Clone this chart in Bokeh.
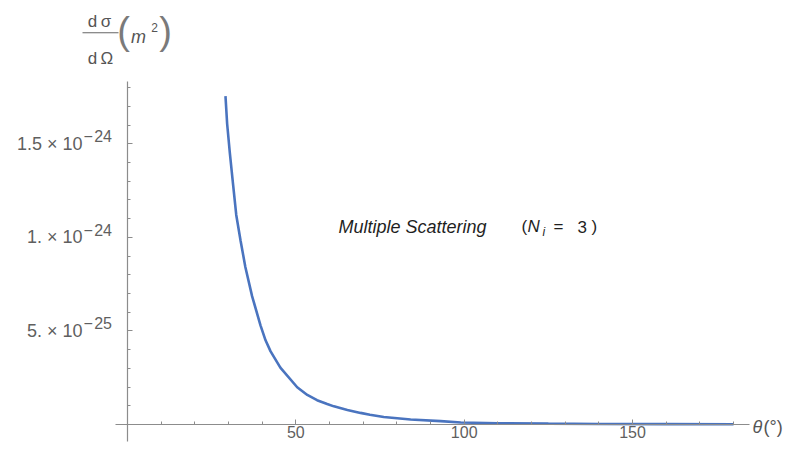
from bokeh.plotting import figure
from bokeh.models import Range1d, LinearAxis, FixedTicker, Label, BoxAnnotation, ColumnDataSource
from bokeh.embed import file_html
from bokeh.resources import INLINE
from bokeh.core.properties import value

# ---- data ----
theta_deg = [29.1, 29.6, 30.4, 31.3, 32.3, 33.6, 35.0, 37.0, 39.5, 41.0, 42.5, 45.4,
             50.4, 53.4, 56.3, 59.3, 61.3, 65.3, 69.2, 72.0, 76.1, 84.1, 93.0, 99.0,
             110.0, 125.0, 140.0, 160.0, 180.0]
dsigma_m2 = [1.755e-24, 1.606e-24, 1.450e-24, 1.293e-24, 1.120e-24, 9.81e-25, 8.42e-25,
             6.86e-25, 5.30e-25, 4.50e-25, 3.91e-25, 3.04e-25, 1.99e-25, 1.58e-25,
             1.30e-25, 1.10e-25, 9.7e-26, 7.8e-26, 6.2e-26, 5.2e-26, 4.0e-26, 2.7e-26,
             1.8e-26, 1.1e-26, 7e-27, 4.5e-27, 3e-27, 2e-27, 1.5e-27]

x_major_ticks = [50, 100, 150]
x_minor_ticks = [10, 20, 30, 40, 60, 70, 80, 90, 110, 120, 130, 140, 160, 170, 180]
y_major_ticks = [5e-25, 1e-24, 1.5e-24]
y_minor_ticks = [1e-25, 2e-25, 3e-25, 4e-25, 6e-25, 7e-25, 8e-25, 9e-25, 1.1e-24,
                 1.2e-24, 1.3e-24, 1.4e-24, 1.6e-24, 1.7e-24, 1.8e-24]
y_tick_mantissa = ["5. \u00d7 10", "1. \u00d7 10", "1.5 \u00d7 10"]
y_tick_exponent = ["\u2212\u200a25", "\u2212\u200a24", "\u2212\u200a24"]

W, H = 785, 445
FONT = "Liberation Sans"
AX = "#8c8c8c"
LBL = "#5f5f5f"

p = figure(width=W, height=H, output_backend="svg", toolbar_location=None,
           x_axis_type=None, y_axis_type=None, min_border=0,
           x_range=Range1d(-37.72, 195.43), y_range=Range1d(-1.1224e-25, 2.266e-24))
p.outline_line_color = None
p.background_fill_color = "white"
p.border_fill_color = "white"

xaxis = LinearAxis(fixed_location=0, bounds=(-3.6, 184.8),
                   ticker=FixedTicker(ticks=x_major_ticks, minor_ticks=x_minor_ticks))
yaxis = LinearAxis(fixed_location=0, bounds=(-0.935e-25, 1.834e-24),
                   ticker=FixedTicker(ticks=y_major_ticks, minor_ticks=y_minor_ticks))
yaxis.major_label_overrides = dict(zip(y_major_ticks, y_tick_mantissa))
for ax in (xaxis, yaxis):
    ax.axis_line_color = AX
    ax.axis_line_width = 1.2
    ax.major_tick_line_color = AX
    ax.minor_tick_line_color = AX
    ax.major_tick_in = 5
    ax.major_tick_out = 0
    ax.minor_tick_in = 3
    ax.minor_tick_out = 0
    ax.major_label_text_font = FONT
    ax.major_label_text_color = LBL
xaxis.major_label_text_font_size = "16px"
yaxis.major_label_text_font_size = "18px"
xaxis.major_label_standoff = 2
yaxis.major_label_standoff = 45
p.add_layout(xaxis, "below")
p.add_layout(yaxis, "left")

p.line(theta_deg, dsigma_m2, line_color="#4a74bf", line_width=2.6)

exp_src = ColumnDataSource(dict(y=y_major_ticks, t=y_tick_exponent))
p.text(x=0, y="y", text="t", source=exp_src, x_offset=-44, y_offset=-7,
       text_align="left", text_baseline="middle", text_font=value(FONT),
       text_font_size="16px", text_color=LBL)


def lab(x, y, t, size="17px", style="normal", color="#1f1f1f", align="left"):
    p.add_layout(Label(x=x, y=y, x_units="screen", y_units="screen", text=t,
                       text_font=FONT, text_font_size=size, text_font_style=style,
                       text_color=color, text_align=align, text_baseline="middle"))


# annotation inside plot
lab(338, 219, "Multiple Scattering", size="18px", style="italic")
lab(521, 219, "(")
lab(527, 219, "N", style="italic")
lab(542, 214, "i", size="12px", style="italic")
lab(553, 219, "=")
lab(577, 219, "3")
lab(591, 219, ")")

# y-axis title: dσ/dΩ (m²)
lab(99, 424.5, "d\u2009\u03c3", color="#555555", align="center")
lab(100, 387.5, "d\u2009\u03a9", color="#555555", align="center")
p.add_layout(BoxAnnotation(left=82, right=118, bottom=412.3, top=413.3,
                           left_units="screen", right_units="screen",
                           bottom_units="screen", top_units="screen",
                           fill_color="#666666", fill_alpha=1, line_color=None))
lab(123, 415, "(", size="38px", color="#7a7a7a", align="center")
lab(138, 409, "m", size="18px", style="italic", color="#555555", align="center")
lab(154, 418, "2", size="12px", color="#555555", align="center")
lab(165, 415, ")", size="38px", color="#7a7a7a", align="center")

# x-axis title
lab(752, 19, "\u03b8", size="18px", style="italic", color="#555555")
lab(763, 19, "(\u00b0)", size="18px", color="#555555")

open("out.html", "w").write(file_html(p, INLINE))
